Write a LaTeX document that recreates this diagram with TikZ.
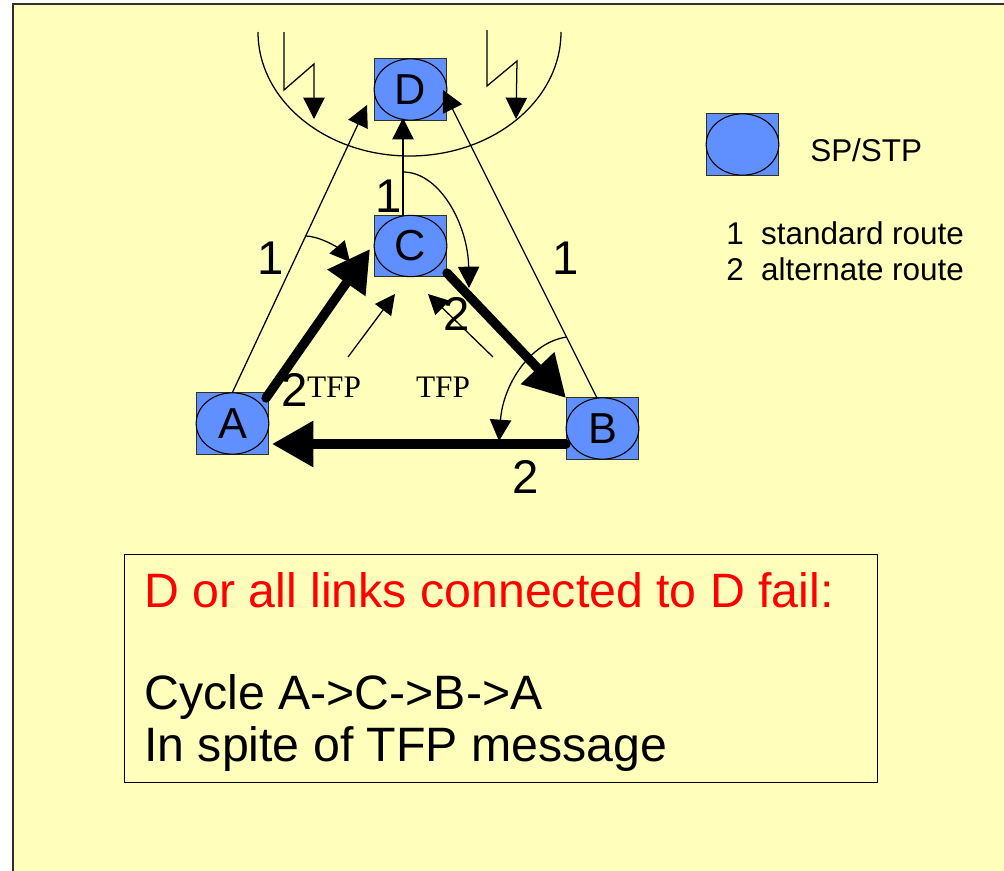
\documentclass[tikz,border=0pt]{standalone}
\usepackage{fontspec}
\setmainfont{Liberation Sans}
\newfontfamily\tfpfont{Liberation Serif}
\usetikzlibrary{arrows.meta,shapes.geometric}
\definecolor{slidebg}{HTML}{FFFFBB}
\definecolor{nodeblue}{HTML}{6090FF}
\definecolor{framegray}{HTML}{303030}
\tikzset{
  x=0.75pt,y=-0.75pt,
  sqbox/.style={draw=black!80!slidebg,line width=0.8pt,fill=nodeblue,inner sep=0pt,minimum width=54.5pt,minimum height=46pt},
  elbox/.style={ellipse,draw=black,line width=0.8pt,fill=nodeblue,inner sep=0pt,minimum width=54.5pt,minimum height=46pt,font=\fontsize{32.5}{32.5}\selectfont},
  thinline/.style={draw=black,line width=0.95pt},
  thintip/.style={thinline,-{Triangle[length=16pt,width=16pt]}},
  smalltip/.style={thinline,-{Triangle[length=15pt,width=15pt]}},
  thick link/.style={draw=black,line width=7pt,line cap=round,-{Triangle[length=31pt,width=33pt]}},
  num/.style={inner sep=0pt,font=\fontsize{35.5}{35.5}\selectfont},
  tfp/.style={inner sep=0pt,font=\tfpfont\fontsize{23.5}{23.5}\selectfont},
  legend/.style={inner sep=0pt,anchor=west,font=\fontsize{23.6}{23.6}\selectfont},
  boxline/.style={inner sep=0pt,anchor=west,font=\fontsize{36.2}{36.2}\selectfont},
}
\begin{document}
\begin{tikzpicture}
\useasboundingbox (0,0) rectangle (1004,871);
\fill[white] (0,0) rectangle (1004,871);
\fill[slidebg] (13,4) rectangle (1004,871);
\draw[framegray,line width=1.6pt] (13,871) -- (13,4) -- (1004,4);

% nodes
\node[sqbox] (Dbox) at (410.5,89.5) {};
\node[elbox] (D) at (410.5,89.5) {D};
\node[sqbox] (Cbox) at (410.5,246) {};
\node[elbox] (C) at (410.5,246) {C};
\node[sqbox] (Abox) at (232.5,423.5) {};
\node[elbox] (A) at (232.5,423.5) {A};
\node[sqbox] (Bbox) at (602.5,428.5) {};
\node[elbox] (B) at (602.5,428.5) {B};
\node[sqbox] (Lbox) at (742.5,144.5) {};
\node[elbox] (L) at (742.5,144.5) {};

% free ends
\coordinate (adtip) at (367,105);
\coordinate (cdtail) at (403,216);
\coordinate (cdtip) at (403,118);
\coordinate (bdtail) at (597,398);
\coordinate (bdtip) at (443,90);
\coordinate (actail) at (266,398);
\coordinate (actip) at (370,249);
\coordinate (cbtail) at (447,273);
\coordinate (cbtip) at (566,398);
\coordinate (batail) at (566,444);
\coordinate (batip) at (272,444);
\coordinate (bowlL) at (258,32);
\coordinate (boltLa) at (284,32);
\coordinate (boltLb) at (284,90);
\coordinate (boltLc) at (314,64);
\coordinate (boltLd) at (314,119);
\coordinate (boltRa) at (487,30);
\coordinate (boltRb) at (487,86);
\coordinate (boltRc) at (517,61);
\coordinate (boltRd) at (516,119);
\coordinate (arcAa) at (306,236);
\coordinate (arcAb) at (350,262);
\coordinate (arcCa) at (403,172);
\coordinate (arcCb) at (469,288);
\coordinate (arcBa) at (567,337);
\coordinate (arcBb) at (499,441);
\coordinate (tfpAa) at (348,357);
\coordinate (tfpAb) at (395,294);
\coordinate (tfpBa) at (493,357);
\coordinate (tfpBb) at (428,294);

% failure bowl and lightning
\draw[thinline] (bowlL) arc[start angle=180,end angle=360,x radius=151.5,y radius=-124];
\draw[thintip] (boltLa) -- (boltLb) -- (boltLc) -- (boltLd);
\draw[thintip] (boltRa) -- (boltRb) -- (boltRc) -- (boltRd);

% standard routes
\draw[thintip] (A.north) -- (adtip);
\draw[thintip] (cdtail) -- (cdtip);
\draw[thintip] (bdtail) -- (bdtip);

% alternate routes
\draw[thick link] (actail) -- (actip);
\draw[thick link] (cbtail) -- (cbtip);
\draw[thick link] (batail) -- (batip);

% rerouting arcs
\draw[smalltip] (arcAa) .. controls (322,237) and (338,248) .. (arcAb);
\draw[thintip] (arcCa) .. controls (440,172) and (468,225) .. (arcCb);
\draw[thintip] (arcBa) .. controls (530,342) and (503,385) .. (arcBb);

% TFP
\draw[smalltip] (tfpAa) -- (tfpAb);
\draw[smalltip] (tfpBa) -- (tfpBb);
\node[tfp] (t1) at (334,387) {TFP};
\node[tfp] (t2) at (443,387) {TFP};

% numbers
\node[num] (n1) at (271,258) {1};
\node[num] (n2) at (389,196) {1};
\node[num] (n3) at (566,258) {1};
\node[num] (n4) at (295,390) {2};
\node[num] (n5) at (457,314) {2};
\node[num] (n6) at (526,477) {2};

% legend
\node[legend] (l1) at (810,150) {SP/STP};
\node[legend] (l2) at (726,233) {1\hspace{0.55em}standard route};
\node[legend] (l3) at (726,269) {2\hspace{0.55em}alternate route};

% message box
\node[draw=black,line width=0.8pt,fill=slidebg,minimum width=564.5pt,minimum height=170.5pt,inner sep=0pt] (msg) at (500.8,668.5) {};
\node[boxline,text=red] (m1) at (144,590) {D or all links connected to D fail:};
\node[boxline] (m2) at (144,697) {Cycle A->C->B->A};
\node[boxline] (m3) at (144,749) {In spite of TFP message};
\end{tikzpicture}
\end{document}
